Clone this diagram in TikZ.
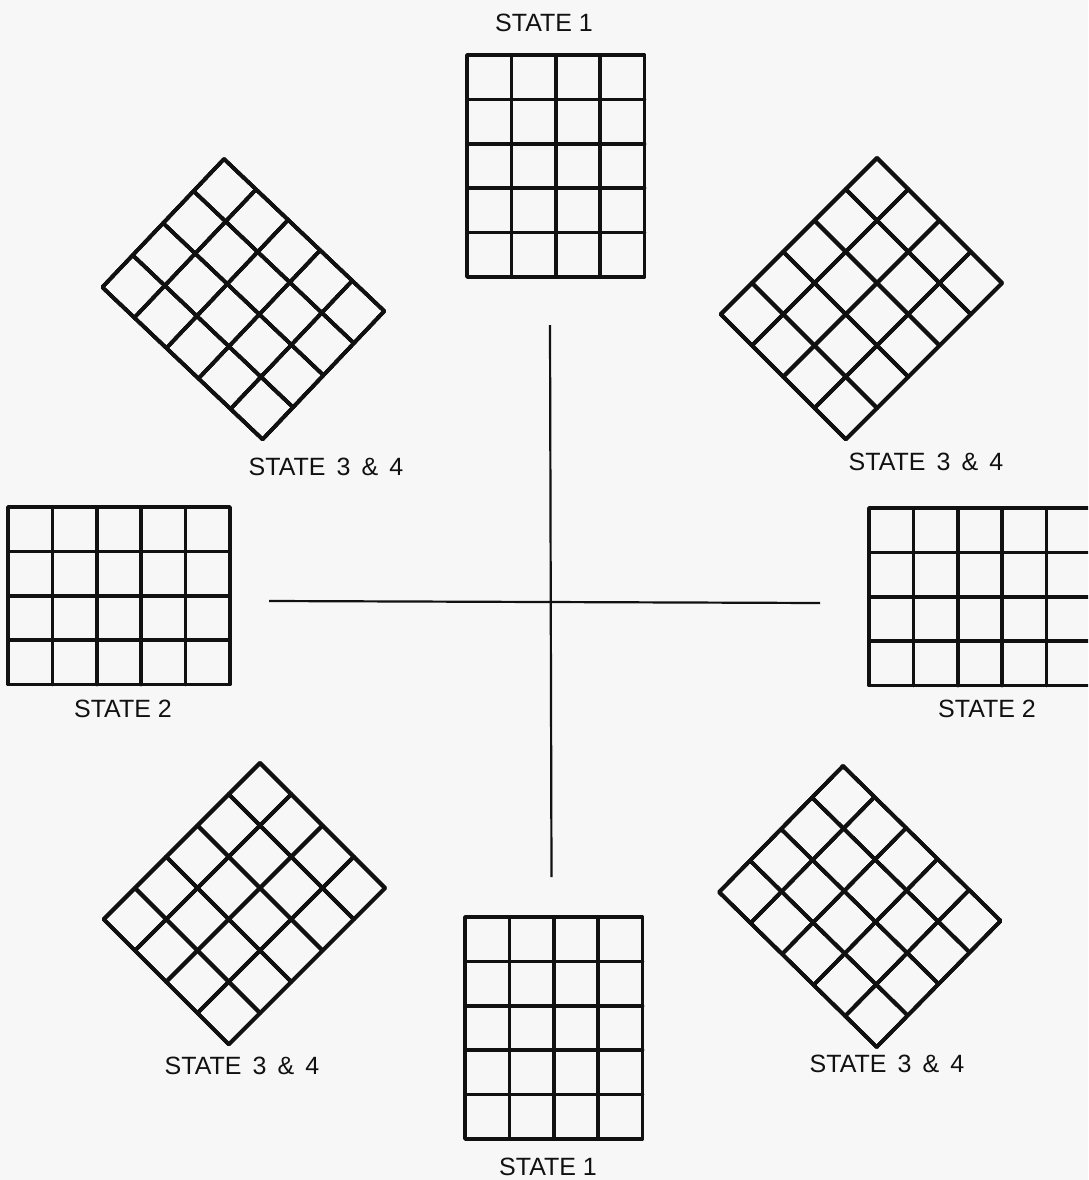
\documentclass[tikz,border=0pt]{standalone}
\usepackage{fontspec}
\setmainfont{Liberation Sans}
\usepackage{xcolor}
\usepackage{tikz}
\definecolor{paper}{HTML}{F7F7F7}
\definecolor{ink}{HTML}{111111}
\tikzset{
  gl/.style  ={draw=ink, line width=3.6pt, line join=round, line cap=round},
  ax/.style  ={draw=ink, line width=2.2pt},
  lbl/.style ={font=\fontsize{25}{25}\selectfont, text=ink, inner sep=0pt, anchor=center},
}
% grid of #1 columns by #2 rows, cell side \cw
\newcommand{\cellgrid}[2]{%
  \pgfmathtruncatemacro{\lc}{#1-1}%
  \pgfmathtruncatemacro{\lr}{#2-1}%
  \draw[gl] (0,0) rectangle (#1*\cw,#2*\cw);
  \foreach \i in {1,...,\lc} \draw[gl] (\i*\cw,0) -- (\i*\cw,#2*\cw);
  \foreach \j in {1,...,\lr} \draw[gl] (0,\j*\cw) -- (#1*\cw,\j*\cw);
}

\begin{document}
\begin{tikzpicture}[x=1pt,y=-1pt]
  \clip (0,0) rectangle (1088,1180);
  \fill[paper] (0,0) rectangle (1088,1180);
  % upright grids: state 1 above and below, state 2 left and right
  \def\cw{44.4}
  \foreach \px/\py/\nc/\nr in {467/55/4/5, 465/917/4/5, 8/507/5/4, 869/508/5/4}
    \begin{scope}[shift={(\px,\py)}] \cellgrid{\nc}{\nr} \end{scope}
  % tilted grids, shifted to their top corner
  \def\cw{44.2}
  \foreach \px/\py/\ang/\nc/\nr in {224/159/-43.5/5/4, 877/158/-45/4/5,
                                    260/763/-45/4/5, 843/766/-44.5/5/4}
    \begin{scope}[shift={(\px,\py)}, rotate=\ang] \cellgrid{\nc}{\nr} \end{scope}
  % cross in the middle
  \coordinate (vt) at (550,325);
  \coordinate (vb) at (551.5,877);
  \coordinate (hl) at (269,601);
  \coordinate (hr) at (820,603);
  \draw[ax] (vt) -- (vb);
  \draw[ax] (hl) -- (hr);
  % labels
  \node[lbl] (sTop)   at (544,23)   {STATE 1};
  \node[lbl] (sBot)   at (548,1167) {STATE 1};
  \node[lbl] (sLeft)  at (123,709)  {STATE 2};
  \node[lbl] (sRight) at (987,709)  {STATE 2};
  \node[lbl] (sNW)    at (326,467)  {STATE~\,3~\,\&~\,4};
  \node[lbl] (sNE)    at (926,462)  {STATE~\,3~\,\&~\,4};
  \node[lbl] (sSW)    at (242,1066) {STATE~\,3~\,\&~\,4};
  \node[lbl] (sSE)    at (887,1064) {STATE~\,3~\,\&~\,4};
\end{tikzpicture}
\end{document}
